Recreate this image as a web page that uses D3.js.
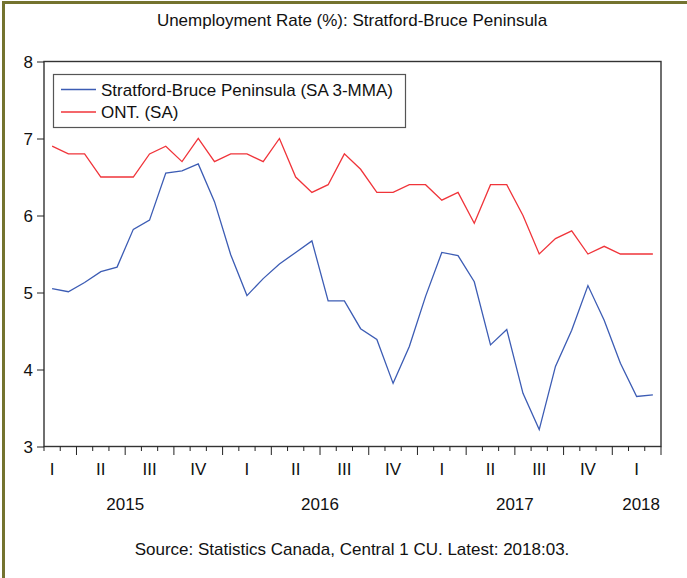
<!DOCTYPE html>
<html>
<head>
<meta charset="utf-8">
<script src="https://cdn.jsdelivr.net/npm/d3@7"></script>
<style>
  html, body { margin: 0; padding: 0; background: #fff; }
  svg text { font-family: "Liberation Sans", Arial, sans-serif; fill: #111; }
</style>
</head>
<body>
<svg id="chart" width="687" height="578"></svg>
<script>
// Monthly observations, 2015:02 through 2018:03
const startYear = 2015;
const startMonth = 2; // February
const stratford = [5.05, 5.01, 5.13, 5.27, 5.33, 5.82, 5.94, 6.55, 6.58, 6.67,
                   6.18, 5.49, 4.96, 5.18, 5.37, 5.52, 5.67, 4.89, 4.89, 4.53,
                   4.39, 3.82, 4.30, 4.95, 5.52, 5.48, 5.14, 4.32, 4.52, 3.69,
                   3.22, 4.04, 4.51, 5.09, 4.64, 4.08, 3.65, 3.67];
const ontario   = [6.9, 6.8, 6.8, 6.5, 6.5, 6.5, 6.8, 6.9, 6.7, 7.0,
                   6.7, 6.8, 6.8, 6.7, 7.0, 6.5, 6.3, 6.4, 6.8, 6.6,
                   6.3, 6.3, 6.4, 6.4, 6.2, 6.3, 5.9, 6.4, 6.4, 6.0,
                   5.5, 5.7, 5.8, 5.5, 5.6, 5.5, 5.5, 5.5];
const seriesNames = ["Stratford-Bruce Peninsula (SA 3-MMA)", "ONT. (SA)"];
const seriesColors = ["#3c5cb4", "#f0343a"];
const yTicks = [3, 4, 5, 6, 7, 8];
const quarterNames = ["I", "II", "III", "IV"];
const years = [2015, 2016, 2017, 2018];
const titleText = "Unemployment Rate (%): Stratford-Bruce Peninsula";
const sourceText = "Source: Statistics Canada, Central 1 CU. Latest: 2018:03.";

const svg = d3.select("#chart");
const W = 687, H = 578;
const plot = { left: 44, right: 661, top: 61.5, bottom: 446.5 };
const fs = 17;

// Outer olive frame
svg.append("rect")
  .attr("x", 3.5).attr("y", 2.5)
  .attr("width", W + 10).attr("height", H + 10)
  .attr("fill", "none").attr("stroke", "#74732f").attr("stroke-width", 3);

const n = stratford.length;
// month boundaries: 0 .. n ; observation i sits in the middle of month i
const x = d3.scaleLinear().domain([0, n]).range([plot.left, plot.right]);
const y = d3.scaleLinear().domain([3, 8]).range([plot.bottom, plot.top]);

function label(sel, px, py, text, anchor, size) {
  return sel.append("text")
    .attr("x", px).attr("y", py)
    .attr("text-anchor", anchor || "middle")
    .attr("font-size", size || fs)
    .text(text);
}

// Title
label(svg, 352, 26, titleText, "middle", fs);

// Series lines
const line = d3.line()
  .x((d, i) => x(i + 0.5))
  .y(d => y(d));
[stratford, ontario].forEach((vals, k) => {
  svg.append("path")
    .datum(vals)
    .attr("fill", "none")
    .attr("stroke", seriesColors[k])
    .attr("stroke-width", 1.3)
    .attr("stroke-linejoin", "miter")
    .attr("d", line);
});

// Plot box
svg.append("rect")
  .attr("x", plot.left).attr("y", plot.top)
  .attr("width", plot.right - plot.left).attr("height", plot.bottom - plot.top)
  .attr("fill", "none").attr("stroke", "#333").attr("stroke-width", 1.4);

// Y axis
const yAxis = d3.axisLeft(y).tickValues(yTicks).tickSize(7).tickPadding(4)
  .tickFormat(d3.format("d"));
const gy = svg.append("g").attr("transform", `translate(${plot.left},0)`).call(yAxis);
gy.select(".domain").remove();
gy.selectAll(".tick line").attr("stroke", "#222").attr("stroke-width", 1);
gy.selectAll(".tick text")
  .attr("font-size", fs)
  .attr("font-family", "Liberation Sans, Arial, sans-serif")
  .attr("fill", "#111")
  .attr("dy", "0.36em")
  .attr("x", -11);

// X axis: monthly ticks, longer ticks at quarter boundaries
const boundaries = d3.range(0, n + 1);
const isQuarterStart = k => ((startMonth - 1 + k) % 3) === 0;
svg.append("g").selectAll("line")
  .data(boundaries)
  .join("line")
  .attr("x1", d => x(d)).attr("x2", d => x(d))
  .attr("y1", plot.bottom)
  .attr("y2", d => plot.bottom + (isQuarterStart(d) ? 8.5 : 4.5))
  .attr("stroke", "#222").attr("stroke-width", 1);

// Quarter labels, centred on each quarter
const firstQuarterStart = -((startMonth - 1) % 3);
const quarters = [];
for (let k = firstQuarterStart; k < n; k += 3) {
  const monthIdx = (startMonth - 1 + k + 120) % 12;
  quarters.push({ k, name: quarterNames[Math.floor(monthIdx / 3)] });
}
const gq = svg.append("g");
quarters.forEach(q => label(gq, x(q.k + 1.5), 475, q.name, "middle", fs));

// Year labels, centred on the year and kept inside the plot
const gyr = svg.append("g");
years.forEach(yr => {
  const k0 = (yr - startYear) * 12 - (startMonth - 1);
  const c = x(k0 + 6);
  if (c > plot.right) label(gyr, plot.right - 1, 510, String(yr), "end", fs);
  else label(gyr, c, 510, String(yr), "middle", fs);
});

// Legend
const leg = svg.append("g");
leg.append("rect")
  .attr("x", 53.5).attr("y", 74.5).attr("width", 352).attr("height", 53)
  .attr("fill", "#fff").attr("stroke", "#555").attr("stroke-width", 1.2);
seriesNames.forEach((name, k) => {
  const ly = 89.5 + k * 22.5;
  leg.append("line")
    .attr("x1", 61).attr("x2", 96).attr("y1", ly).attr("y2", ly)
    .attr("stroke", seriesColors[k]).attr("stroke-width", 1.3);
  label(leg, 101, ly + 6, name, "start", fs);
});

// Source note
label(svg, 352, 555, sourceText, "middle", fs);
</script>
</body>
</html>
